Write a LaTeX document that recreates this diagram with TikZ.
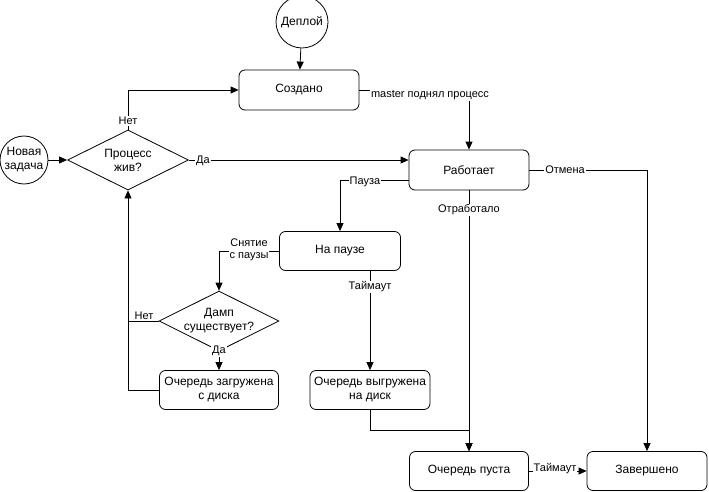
\documentclass[tikz,border=0pt]{standalone}
\usepackage{fontspec}
\setmainfont{Liberation Sans}
\usetikzlibrary{shapes.geometric,arrows.meta}
\begin{document}
\begin{tikzpicture}[x=1pt,y=-1pt,
  box/.style={draw,rounded corners=6pt,minimum width=120pt,minimum height=40pt,align=center,font=\fontsize{12}{14}\selectfont,line width=0.8pt},
  circ/.style={draw,circle,minimum size=50pt,inner sep=0pt,align=center,font=\fontsize{12}{14}\selectfont,line width=0.8pt},
  dia/.style={draw,diamond,aspect=2,minimum width=121pt,minimum height=60pt,inner sep=0pt,align=center,font=\fontsize{12}{14}\selectfont,line width=0.8pt},
  arr/.style={draw,-{Triangle[width=7pt,length=8pt]},line width=0.8pt},
  lab/.style={fill=white,inner sep=1pt,align=center,font=\fontsize{11}{12}\selectfont}]
\useasboundingbox (0,0) rectangle (709,492);
\node[circ,minimum size=52pt] (dep) at (302,22) {Деплой};
\node[box] (cr) at (299,90) {Создано};
\node[circ,minimum size=48pt] (nz) at (24,160) {Новая\\задача};
\node[dia] (pj) at (128,160) {Процесс\\жив?};
\node[box] (rb) at (469,170) {Работает};
\node[box,minimum width=121pt,minimum height=39pt] (np) at (340,251) {На паузе};
\node[dia,minimum width=119pt,minimum height=58pt] (ds) at (219,321) {Дамп\\существует?};
\node[box,minimum width=119pt,minimum height=39pt] (oz) at (219,390) {Очередь загружена\\с диска};
\node[box,minimum width=120pt,minimum height=39pt] (ov) at (370,390) {Очередь выгружена\\на диск};
\node[box,minimum width=119pt,minimum height=39pt] (op) at (469,471) {Очередь пуста};
\node[box,minimum width=120pt,minimum height=39pt] (zv) at (647,471) {Завершено};
\path[arr] (dep) -- (cr);
\path[arr] (nz) -- (pj);
\path[arr] (pj.north) -- (128,90) -- (cr.west);
\node[lab] at (128,121) {Нет};
\path[arr] (pj.east) -- (rb.west |- 0,160);
\node[lab] at (203,161) {Да};
\path[arr] (cr.east) -- (469,90) -- (rb.north);
\node[lab] at (430,95) {master поднял процесс};
\path[arr] (rb.west |- 0,180) -- (340,180) -- (np.north);
\node[lab] at (365,182) {Пауза};
\path[arr] (rb.east) -- (647,170) -- (zv.north);
\node[lab] at (565,170) {Отмена};
\path[arr] (rb.south) -- (op.north);
\node[lab] at (469,210) {Отработало};
\path[arr] (np.west) -- (219,251) -- (ds.north);
\node[lab] at (249,250) {Снятие\\с паузы};
\path[arr] (370,271) -- (ov.north);
\node[lab] at (370,287) {Таймаут};
\path[arr] (ds.south) -- (oz.north);
\node[lab] at (219,351) {Да};
\path[arr] (ds.west) -- (128,321) -- (pj.south);
\node[lab] at (144,316) {Нет};
\draw[line width=0.8pt] (oz.west) -- (128,390) -- (128,321);
\path[arr] (ov.south) -- (370,430) -- (469,430) -- (op.north);
\path[arr] (op.east) -- (zv.west);
\node[lab] at (555,469) {Таймаут};
\end{tikzpicture}
\end{document}
